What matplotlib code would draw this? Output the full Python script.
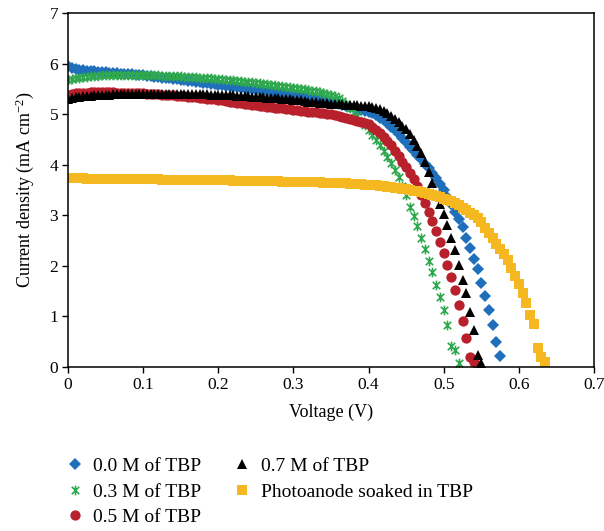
import numpy as np
import matplotlib
matplotlib.use("Agg")
import matplotlib.pyplot as plt
from matplotlib.path import Path

plt.rcParams['font.family'] = ['Liberation Serif', 'DejaVu Serif']
plt.rcParams['mathtext.fontset'] = 'custom'
plt.rcParams['mathtext.rm'] = 'Liberation Serif'
plt.rcParams['mathtext.it'] = 'Liberation Serif:italic'

# ---- data (current density, mA cm^-2) sampled every 0.005 V ----
voltage_step = 0.005

j_0M = [5.95, 5.91, 5.89, 5.88, 5.87, 5.86, 5.86, 5.85, 5.84, 5.84, 5.83,
        5.82, 5.82, 5.81, 5.80, 5.80, 5.79, 5.79, 5.78, 5.78, 5.77,
        5.76, 5.75, 5.74, 5.73, 5.72, 5.72, 5.71, 5.70, 5.69, 5.68,
        5.67, 5.66, 5.65, 5.64, 5.63, 5.62, 5.61, 5.60, 5.59, 5.58,
        5.57, 5.56, 5.55, 5.54, 5.53, 5.52, 5.51, 5.50, 5.49, 5.48,
        5.47, 5.46, 5.45, 5.44, 5.43, 5.42, 5.41, 5.40, 5.39, 5.38,
        5.37, 5.35, 5.34, 5.32, 5.31, 5.30, 5.28, 5.27, 5.25, 5.24,
        5.22, 5.20, 5.18, 5.16, 5.15, 5.13, 5.11, 5.09, 5.07, 5.05,
        5.02, 4.98, 4.93, 4.88, 4.82, 4.75, 4.68, 4.60, 4.52, 4.44,
        4.36, 4.28, 4.20, 4.11, 4.02, 3.93, 3.83, 3.73, 3.62, 3.50,
        3.37, 3.22, 3.07, 2.92, 2.77, 2.56, 2.35, 2.13, 1.93, 1.66,
        1.40, 1.12, 0.83, 0.50, 0.22]

j_03M = [5.68, 5.69, 5.71, 5.72, 5.73, 5.74, 5.75, 5.76, 5.76, 5.77, 5.77,
         5.77, 5.78, 5.78, 5.78, 5.78, 5.78, 5.78, 5.78, 5.78, 5.78,
         5.78, 5.77, 5.77, 5.77, 5.76, 5.76, 5.76, 5.75, 5.75, 5.75,
         5.74, 5.74, 5.73, 5.73, 5.72, 5.72, 5.71, 5.71, 5.70, 5.70,
         5.69, 5.68, 5.67, 5.67, 5.66, 5.65, 5.64, 5.64, 5.63, 5.62,
         5.61, 5.60, 5.59, 5.58, 5.57, 5.56, 5.55, 5.54, 5.53, 5.52,
         5.51, 5.50, 5.49, 5.48, 5.46, 5.45, 5.44, 5.42, 5.40, 5.38,
         5.35, 5.31, 5.26, 5.20, 5.13, 5.05, 4.96, 4.87, 4.78, 4.69,
         4.59, 4.49, 4.38, 4.27, 4.15, 4.03, 3.90, 3.76, 3.58, 3.40,
         3.17, 2.98, 2.78, 2.55, 2.33, 2.10, 1.88, 1.63, 1.38, 1.12,
         0.83, 0.41, 0.34, 0.07]

j_05M = [5.38, 5.40, 5.41, 5.42, 5.42, 5.42, 5.43, 5.43, 5.43, 5.43, 5.43,
         5.43, 5.43, 5.42, 5.42, 5.42, 5.42, 5.42, 5.41, 5.41, 5.41,
         5.40, 5.40, 5.39, 5.39, 5.38, 5.38, 5.37, 5.37, 5.36, 5.36,
         5.35, 5.34, 5.33, 5.33, 5.32, 5.31, 5.30, 5.30, 5.29, 5.28,
         5.27, 5.26, 5.25, 5.24, 5.23, 5.22, 5.21, 5.20, 5.19, 5.18,
         5.17, 5.16, 5.15, 5.14, 5.13, 5.13, 5.12, 5.11, 5.10, 5.09,
         5.08, 5.07, 5.06, 5.05, 5.05, 5.04, 5.03, 5.02, 5.01, 5.00,
         4.99, 4.97, 4.95, 4.93, 4.91, 4.89, 4.87, 4.85, 4.83, 4.80,
         4.75, 4.68, 4.62, 4.55, 4.47, 4.38, 4.28, 4.17, 4.06, 3.95,
         3.84, 3.71, 3.57, 3.40, 3.24, 3.07, 2.88, 2.68, 2.47, 2.25,
         2.02, 1.78, 1.52, 1.22, 0.90, 0.58, 0.20, 0.10]

j_07M = [5.30, 5.32, 5.33, 5.34, 5.35, 5.36, 5.36, 5.37, 5.37, 5.38, 5.38,
         5.38, 5.39, 5.39, 5.39, 5.39, 5.40, 5.40, 5.40, 5.40, 5.40,
         5.40, 5.40, 5.40, 5.40, 5.40, 5.40, 5.40, 5.40, 5.40, 5.40,
         5.40, 5.40, 5.39, 5.39, 5.39, 5.39, 5.39, 5.38, 5.38, 5.38,
         5.38, 5.37, 5.37, 5.37, 5.36, 5.36, 5.35, 5.35, 5.34, 5.34,
         5.33, 5.33, 5.32, 5.32, 5.31, 5.31, 5.30, 5.29, 5.29, 5.28,
         5.27, 5.27, 5.26, 5.25, 5.25, 5.24, 5.23, 5.23, 5.22, 5.21,
         5.21, 5.20, 5.20, 5.19, 5.19, 5.18, 5.18, 5.17, 5.17, 5.16,
         5.15, 5.13, 5.10, 5.07, 5.02, 4.97, 4.91, 4.84, 4.77, 4.70,
         4.60, 4.49, 4.37, 4.24, 4.05, 3.85, 3.63, 3.40, 3.22, 3.03,
         2.81, 2.55, 2.31, 2.02, 1.72, 1.46, 1.09, 0.73, 0.24, 0.08]

j_soaked = [3.73, 3.73, 3.73, 3.73, 3.73, 3.72, 3.72, 3.72, 3.72, 3.72, 3.72,
            3.72, 3.72, 3.72, 3.72, 3.72, 3.71, 3.71, 3.71, 3.71, 3.71,
            3.71, 3.71, 3.71, 3.71, 3.70, 3.70, 3.70, 3.70, 3.70, 3.70,
            3.70, 3.70, 3.70, 3.70, 3.70, 3.69, 3.69, 3.69, 3.69, 3.69,
            3.69, 3.69, 3.69, 3.68, 3.68, 3.68, 3.68, 3.68, 3.68, 3.68,
            3.67, 3.67, 3.67, 3.67, 3.67, 3.67, 3.66, 3.66, 3.66, 3.66,
            3.66, 3.66, 3.65, 3.65, 3.65, 3.65, 3.65, 3.64, 3.64, 3.64,
            3.64, 3.63, 3.63, 3.63, 3.62, 3.62, 3.61, 3.61, 3.60, 3.60,
            3.59, 3.59, 3.58, 3.57, 3.56, 3.55, 3.54, 3.53, 3.52, 3.51,
            3.50, 3.49, 3.48, 3.46, 3.45, 3.43, 3.41, 3.39, 3.36, 3.33,
            3.31, 3.28, 3.24, 3.20, 3.15, 3.10, 3.05, 3.00, 2.95, 2.86,
            2.75, 2.64, 2.55, 2.44, 2.34, 2.24, 2.11, 1.96, 1.80, 1.64,
            1.46, 1.26, 1.03, 0.85, 0.38, 0.20, 0.10]

labels = ["0.0 M of TBP", "0.3 M of TBP", "0.5 M of TBP",
          "0.7 M of TBP", "Photoanode soaked in TBP"]
series = [j_0M, j_03M, j_05M, j_07M, j_soaked]

x_ticks = [0, 0.1, 0.2, 0.3, 0.4, 0.5, 0.6, 0.7]
x_ticklabels = ["0", "0.1", "0.2", "0.3", "0.4", "0.5", "0.6", "0.7"]
y_ticks = [0, 1, 2, 3, 4, 5, 6, 7]

# ---- styles ----
star = Path([(-1, -1), (1, 1), (-1, 1), (1, -1), (0, -1.3), (0, 1.3)],
            [Path.MOVETO, Path.LINETO, Path.MOVETO, Path.LINETO,
             Path.MOVETO, Path.LINETO])
styles = [
    dict(marker='D', color='#1f6fba', ms=5.8),
    dict(marker=star, color='#2fa84f', ms=7.0, mew=1.2),
    dict(marker='o', color='#b8202b', ms=7.4),
    dict(marker='^', color='#000000', ms=7.6),
    dict(marker='s', color='#f5b820', ms=6.5),
]

fig = plt.figure(figsize=(6.04, 5.31), dpi=100)
ax = fig.add_axes([68/604, 1-367/531, (594-68)/604, (367-13)/531])

for j, lab, st in zip(series, labels, styles):
    v = np.arange(len(j)) * voltage_step
    ax.plot(v, j, linestyle='none', marker=st['marker'], color=st['color'],
            markersize=st['ms'], markeredgewidth=st.get('mew', 0.0),
            markeredgecolor=st['color'], label=lab)

ax.set_xlim(0, 0.7)
ax.set_ylim(0, 7)
ax.set_xticks(x_ticks)
ax.set_xticklabels(x_ticklabels)
ax.set_yticks(y_ticks)
ax.tick_params(direction='out', length=4, width=1.0, labelsize=12.5,
               top=False, right=False, pad=3)
for s in ax.spines.values():
    s.set_linewidth(1.1)
    s.set_color('black')

ax.set_xlabel("Voltage (V)", fontsize=13, labelpad=8)
ax.set_ylabel("Current density (mA cm$^{-2}$)", fontsize=13, labelpad=10)

handles, labs = ax.get_legend_handles_labels()
leg = fig.legend(handles, labs, loc='upper left', ncol=2,
                 bbox_to_anchor=(0.095, 0.153), frameon=False,
                 fontsize=14, handlelength=1.0, handletextpad=0.45,
                 columnspacing=1.6, labelspacing=0.4, markerscale=1.0,
                 borderaxespad=0)

fig.savefig("out.png", dpi=100)
